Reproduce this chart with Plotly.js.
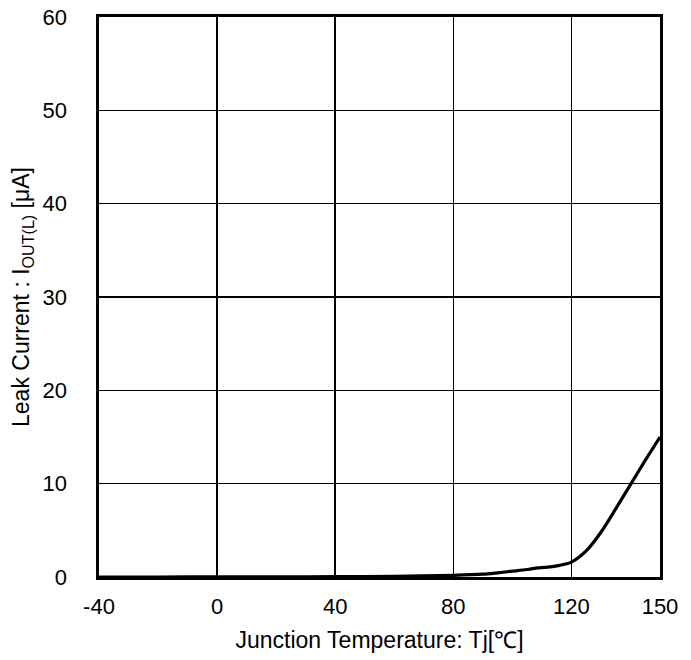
<!DOCTYPE html>
<html>
<head>
<meta charset="utf-8">
<script src="https://cdn.plot.ly/plotly-3.0.1.min.js"></script>
<style>html,body{margin:0;padding:0;background:#fff;}</style>
</head>
<body>
<div id="chart" style="width:691px;height:660px;"></div>
<script>
// Junction temperature (°C)
var temperature = [-40, -20, 0, 20, 40, 60, 80, 90, 95, 100, 105, 108, 112, 116, 120, 125, 130, 135, 140, 145, 150];
// Leak current (µA)
var leakCurrent = [0.0, 0.0, 0.01, 0.02, 0.04, 0.08, 0.18, 0.3, 0.45, 0.62, 0.8, 0.95, 1.05, 1.25, 1.6, 2.8, 4.8, 7.3, 9.9, 12.5, 15.0];

var xTickVals = [-40, 0, 40, 80, 120, 150];
var xTickText = ['-40', '0', '40', '80', '120', '150'];
var yTickVals = [0, 10, 20, 30, 40, 50, 60];

var font = {family: 'Liberation Sans, Arial, sans-serif', size: 22, color: '#000'};
var titleFont = {family: 'Liberation Sans, Arial, sans-serif', size: 23, color: '#000'};

var trace = {
  x: temperature,
  y: leakCurrent,
  type: 'scatter',
  mode: 'lines',
  line: {color: '#000', width: 3.2, shape: 'spline', smoothing: 0.8},
  hoverinfo: 'skip'
};

var layout = {
  width: 691,
  height: 660,
  margin: {l: 99, r: 31, t: 17, b: 83},
  paper_bgcolor: '#fff',
  plot_bgcolor: '#fff',
  showlegend: false,
  font: font,
  xaxis: {
    range: [-40, 150],
    tickvals: xTickVals,
    ticktext: xTickText,
    ticks: '',
    ticklabelstandoff: 8,
    showgrid: true,
    gridcolor: '#000',
    gridwidth: 1.6,
    zeroline: false,
    showline: true,
    mirror: true,
    linecolor: '#000',
    linewidth: 2.6,
    tickfont: font,
    title: {text: 'Junction Temperature: Tj[℃]', font: titleFont, standoff: 14}
  },
  yaxis: {
    range: [0, 60],
    tickvals: yTickVals,
    ticks: '',
    ticklabelstandoff: 25,
    showgrid: true,
    gridcolor: '#000',
    gridwidth: 1.6,
    zeroline: false,
    showline: true,
    mirror: true,
    linecolor: '#000',
    linewidth: 2.6,
    tickfont: font,
    title: {text: 'Leak Current : I<sub>OUT(L)</sub> [μA]', font: titleFont, standoff: 7}
  }
};

Plotly.newPlot('chart', [trace], layout, {displayModeBar: false, staticPlot: true});
</script>
</body>
</html>
